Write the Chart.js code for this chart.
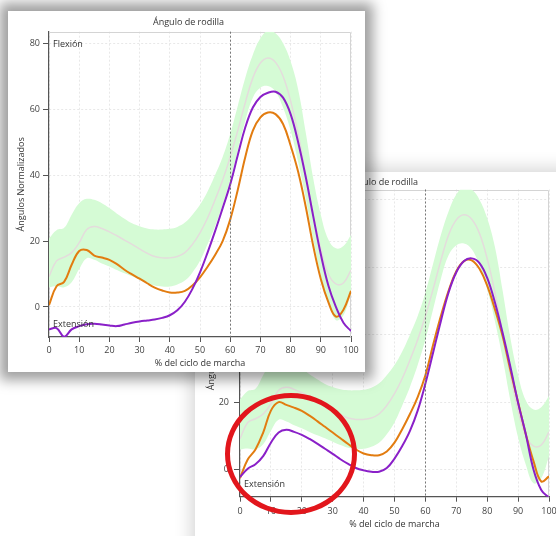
<!DOCTYPE html>
<html>
<head>
<meta charset="utf-8">
<script src="https://cdn.jsdelivr.net/npm/chart.js@4.4.1/dist/chart.umd.min.js"></script>
<style>
body { margin: 0; width: 556px; height: 536px; overflow: hidden; background: #fff; position: relative; }
.card { position: absolute; background: #fff; }
#backCard { left: 195px; top: 172px; width: 375px; height: 380px; box-shadow: 0 0 16px 4px rgba(0,0,0,0.16); }
#frontCard { left: 8px; top: 11px; width: 357px; height: 361px; box-shadow: 0 0 12px 8px rgba(0,0,0,0.38); }
#ring { position: absolute; left: 225px; top: 393px; width: 132px; height: 122px; box-sizing: border-box;
        border: 5px solid #e2161c; border-radius: 50%; filter: blur(0.4px); }
canvas { display: block; }
</style>
</head>
<body>
<div class="card" id="backCard"><canvas id="backChart" width="375" height="361"></canvas></div>
<div id="ring"></div>
<div class="card" id="frontCard"><canvas id="frontChart" width="357" height="361"></canvas></div>
<script>
// % of gait cycle
var pct = [0, 2.5, 5, 7.5, 10, 12.5, 15, 17.5, 20, 22.5, 25, 27.5, 30, 32.5, 35, 37.5, 40, 42.5, 45, 47.5, 50,
           52.5, 55, 57.5, 60, 62.5, 65, 67.5, 70, 72.5, 75, 77.5, 80, 82.5, 85, 87.5, 90, 92.5, 95, 97.5, 100];

// normative band (same in both screenshots)
var normUpper = [20.8, 23.3, 24, 28, 31.5, 32.8, 32.5, 31.5, 30, 28.3, 26.8, 25.4, 24.5, 23.8, 23.5, 23.5, 23.7, 24.3, 25.6, 28, 31,
                 35, 40, 45.5, 52.5, 61, 69.5, 76.5, 81.5, 83.8, 83, 80, 74.5, 66, 53, 39, 28, 20.5, 17.8, 18.5, 21.8];
var normMean = [9.2, 14, 15.1, 16.5, 19.5, 23.5, 24.4, 23.8, 22.8, 21.6, 20.3, 19, 17.6, 16.3, 15.3, 14.9, 14.9, 15.3, 16.5, 19, 22.5,
                27, 32.5, 38.5, 45.5, 53.5, 62, 69.5, 74, 75.5, 74.2, 70, 62.5, 52.5, 40, 28, 17.5, 10, 7, 7.3, 11.2];
var normLower = [6, 6.3, 6, 7.5, 11.5, 14.8, 14.3, 13.2, 12.3, 11.2, 10.2, 9.3, 8.3, 7.3, 6.5, 6.2, 6.2, 6.8, 8, 10.5, 14,
                 19, 24.5, 31, 38.5, 47.5, 56.5, 63.5, 66.5, 67, 65.3, 60.5, 53.5, 44, 33, 20.5, 9.5, 1.5, -4, -2.5, 4];

// front screenshot
var frontOrange = [0.6, 6.3, 7.6, 12.8, 17, 17.3, 15.6, 15, 14.3, 13, 11.3, 9.9, 8.6, 7.2, 5.9, 5, 4.4, 4.4, 4.9, 6.5, 9,
                   12.2, 15.8, 20, 26.5, 35.5, 45.5, 53.5, 57.5, 59, 58.5, 55.5, 49, 41, 30.5, 18.5, 8.5, 1.5, -2.9, -0.8, 4.9];
var frontPurple = [-6.8, -6.4, -9, -6.8, -5.8, -5.2, -5.1, -5.3, -5.6, -5.8, -5.3, -4.8, -4.4, -4.1, -3.8, -3.3, -2.5, -1, 1.6, 5.5, 10.5,
                   16.5, 23, 30, 37.2, 46, 54.5, 60.5, 63.7, 65, 65.3, 63.5, 58.5, 50, 39.5, 27.5, 16, 6.5, 0, -4.8, -7.3];

// back screenshot
var backOrange = [-2.5, 3, 6, 11, 17.5, 20, 19.2, 18.4, 17.4, 16, 14.4, 12.7, 11, 9.3, 7.6, 6, 4.8, 4.3, 4.3, 5.4, 8,
                  12, 16.5, 21.5, 28, 37, 45.5, 53, 58.8, 61.8, 62, 59.5, 54.5, 47.5, 39.5, 29.5, 20, 10.5, 2.5, -3.5, -2];
var backPurple = [-2.2, 0.3, 1.6, 4, 8, 11, 11.8, 11.2, 10.3, 9.1, 7.7, 6.2, 4.7, 3.1, 1.7, 0.5, -0.2, -0.6, -0.6, 0.5, 3.3,
                  7, 11.5, 17.5, 25.5, 34.7, 44, 52.5, 58.5, 61.8, 62.6, 61.2, 56.8, 49.5, 40.5, 30.5, 19.8, 10.5, 0, -6, -8.3];

var swingStart = 60;
var chartTitle = 'Ángulo de rodilla';
var xTitle = '% del ciclo de marcha';
var yTitle = 'Ángulos Normalizados';

Chart.defaults.font.family = '"Open Sans", sans-serif';
Chart.defaults.font.size = 9;
Chart.defaults.color = '#333';

function pts(arr) {
    return pct.map(function (x, i) { return { x: x, y: arr[i] }; });
}

function overlay(g) {
    return {
        id: 'overlay',
        beforeDatasetsDraw: function (chart) {
            var a = chart.chartArea, c = chart.ctx;
            c.save();
            c.strokeStyle = '#d4d4d4';
            c.lineWidth = 1;
            c.beginPath();
            c.moveTo(a.left, Math.round(a.top) + 0.5);
            c.lineTo(Math.round(a.right) - 0.5, Math.round(a.top) + 0.5);
            c.lineTo(Math.round(a.right) - 0.5, a.bottom);
            c.stroke();
            c.restore();
        },
        afterDatasetsDraw: function (chart) {
            var a = chart.chartArea, c = chart.ctx;
            var px = Math.round(chart.scales.x.getPixelForValue(swingStart)) + 0.5;
            c.save();
            c.setLineDash([2, 2]);
            c.strokeStyle = '#777';
            c.lineWidth = 1;
            c.beginPath();
            c.moveTo(px, a.top);
            c.lineTo(px, a.bottom);
            c.stroke();
            c.setLineDash([]);
            c.font = '9px "Open Sans"';
            c.fillStyle = '#333';
            c.textBaseline = 'middle';
            c.fillText('Flexión', a.left + 4, a.top + 12.3);
            c.fillText('Extensión', a.left + 4, a.bottom - g.extOff);
            c.restore();
        }
    };
}

function makeChart(id, orange, purple, g) {
    var line = { pointRadius: 0, tension: 0.4, yAxisID: 'y' };
    // first dataset is painted on top, so the band goes last
    return new Chart(document.getElementById(id), {
        type: 'line',
        data: {
            datasets: [
                Object.assign({ data: pts(purple), borderWidth: 2, borderColor: '#8a20c8', fill: false }, line),
                Object.assign({ data: pts(orange), borderWidth: 2, borderColor: '#e27c10', fill: false }, line),
                Object.assign({ data: pts(normMean), borderWidth: 1.5, borderColor: '#e4dcdc', fill: false }, line),
                Object.assign({ data: pts(normUpper), borderWidth: 0, borderColor: 'rgba(0,0,0,0)', backgroundColor: '#d5fbd5', fill: '+1' }, line),
                Object.assign({ data: pts(normLower), borderWidth: 0, borderColor: 'rgba(0,0,0,0)', fill: false }, line)
            ]
        },
        options: {
            responsive: false,
            animation: false,
            devicePixelRatio: 1,
            layout: { padding: { left: g.padLeft, right: 0, top: 0, bottom: 0 } },
            plugins: {
                legend: { display: false },
                tooltip: { enabled: false },
                title: { display: true, text: chartTitle, color: '#333', font: { size: 9, weight: 'normal' },
                         padding: { top: g.titleTop, bottom: g.titleBottom } }
            },
            scales: {
                x: {
                    type: 'linear', min: 0, max: 100,
                    afterFit: function (s) { s.height = g.xHeight; },
                    ticks: { stepSize: 10, autoSkip: false, maxRotation: 0, padding: g.xTickPad, color: '#444' },
                    grid: { color: '#e8e8e8', tickColor: '#555', tickLength: 5 },
                    border: { color: '#555', width: 1.2, dash: [2, 2] },
                    title: { display: true, text: xTitle, color: '#333', padding: { top: 0, bottom: 3.6 } }
                },
                y: {
                    type: 'linear', position: 'left', min: g.yMin, max: g.yMax,
                    afterFit: function (s) { s.width = g.yWidth; },
                    ticks: { stepSize: 20, includeBounds: false, padding: g.yTickPad, color: '#444' },
                    grid: { color: '#e8e8e8', tickColor: '#555', tickLength: 6 },
                    border: { color: '#555', width: 1.2, dash: [2, 2] },
                    title: { display: true, text: yTitle, color: '#333', padding: { top: g.yTitlePad, bottom: 0 } }
                },
                yR: {
                    type: 'linear', position: 'right',
                    afterFit: function (s) { s.width = g.rightWidth; },
                    ticks: { display: false },
                    grid: { display: false },
                    border: { display: false }
                }
            }
        },
        plugins: [overlay(g)]
    });
}

makeChart('backChart', backOrange, backPurple, {
    padLeft: 0, titleTop: 4.6, titleBottom: 2.1, xHeight: 36.3, xTickPad: 4,
    yMin: -8, yMax: 83, yWidth: 45, yTickPad: 5, yTitlePad: 11, rightWidth: 21, extOff: 12
});

makeChart('frontChart', frontOrange, frontPurple, {
    padLeft: 4, titleTop: 6.2, titleBottom: 3.7, xHeight: 35, xTickPad: 3,
    yMin: -9.1, yMax: 83.5, yWidth: 37, yTickPad: 3, yTitlePad: 4.3, rightWidth: 14, extOff: 13
});
</script>
</body>
</html>
